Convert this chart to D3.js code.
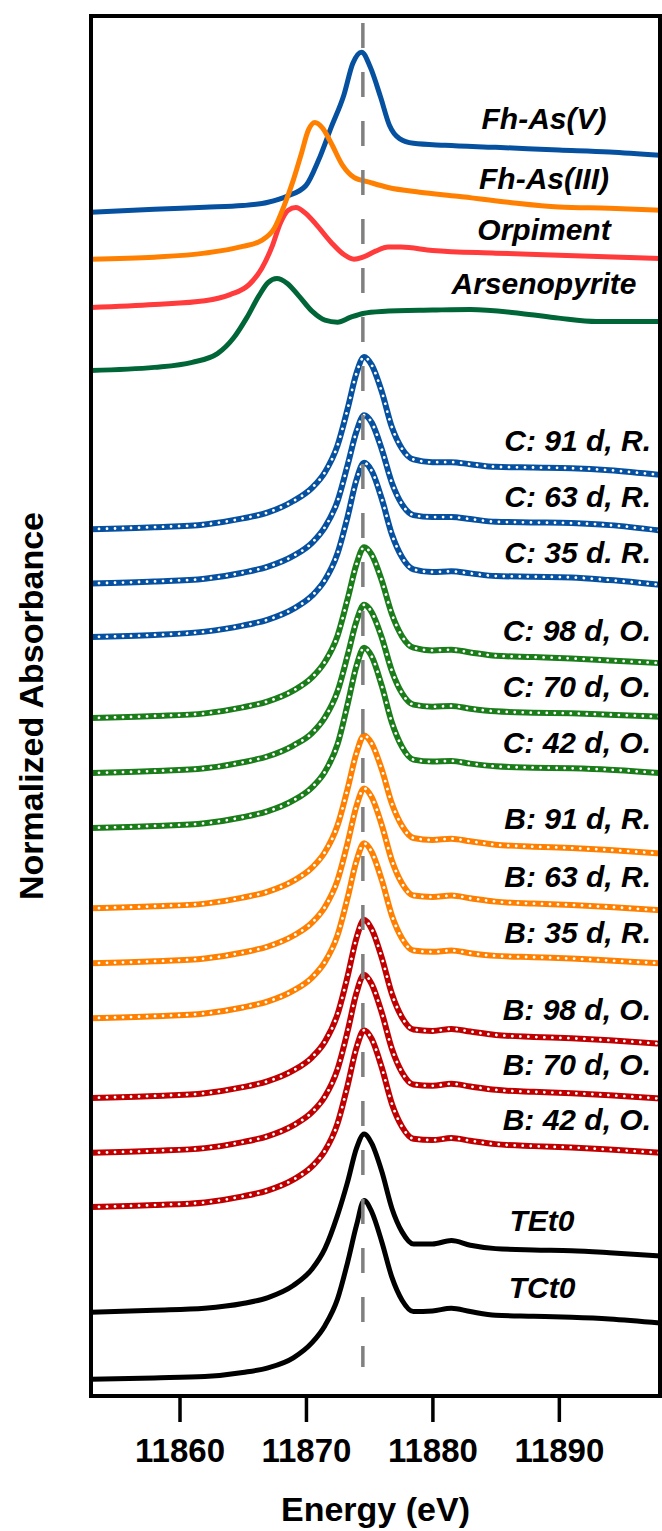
<!DOCTYPE html>
<html>
<head>
<meta charset="utf-8">
<script src="https://cdn.jsdelivr.net/npm/d3@7"></script>
<style>
  body { margin: 0; background: #fff; }
  svg { display: block; }
</style>
</head>
<body>
<svg id="chart" width="662" height="1531"></svg>
<script>
// ---------- As K-edge XANES: reference compounds ----------
// normalized absorbance above each spectrum's own pre-edge baseline
const fhAs5Energy = [11853, 11858, 11862, 11865, 11867, 11868.5, 11870, 11871, 11872, 11873, 11873.7, 11874.4, 11875.1, 11875.9, 11876.6, 11877.4, 11878.5, 11881, 11885, 11890, 11894, 11898];
const fhAs5Mu     = [0, 0.045, 0.075, 0.10, 0.15, 0.24, 0.40, 0.78, 1.27, 1.75, 2.22, 2.39, 2.16, 1.72, 1.30, 1.10, 1.03, 1.00, 0.97, 0.93, 0.90, 0.85];

const fhAs3Energy = [11853, 11858, 11862, 11865, 11866.5, 11867.5, 11868.3, 11869, 11869.6, 11870.2, 11870.7, 11871.3, 11872, 11872.9, 11873.8, 11875, 11876.5, 11879, 11882, 11886, 11890, 11894, 11898];
const fhAs3Mu     = [0, 0.03, 0.09, 0.19, 0.28, 0.46, 0.81, 1.18, 1.55, 1.93, 2.04, 1.96, 1.73, 1.40, 1.22, 1.15, 1.07, 1.00, 0.94, 0.85, 0.78, 0.76, 0.73];

const orpimentEnergy = [11853, 11858, 11862, 11864, 11865.5, 11866.5, 11867.3, 11868, 11868.6, 11869.2, 11870, 11870.8, 11872, 11873, 11873.8, 11874.5, 11875.5, 11876.5, 11877.5, 11880, 11885, 11890, 11898];
const orpimentMu     = [0, 0.045, 0.10, 0.19, 0.34, 0.58, 0.90, 1.27, 1.45, 1.49, 1.40, 1.24, 0.97, 0.79, 0.72, 0.75, 0.84, 0.90, 0.90, 0.85, 0.81, 0.78, 0.73];

const arsenopyriteEnergy = [11853, 11858, 11861, 11863, 11864.3, 11865.3, 11866.3, 11867, 11867.7, 11868.5, 11869.4, 11870.5, 11871.5, 11872.5, 11873.5, 11874.5, 11876, 11880, 11883, 11887, 11890, 11893, 11898];
const arsenopyriteMu     = [0, 0.045, 0.12, 0.25, 0.49, 0.78, 1.12, 1.31, 1.37, 1.30, 1.12, 0.88, 0.75, 0.72, 0.79, 0.85, 0.88, 0.90, 0.91, 0.85, 0.78, 0.73, 0.73];

const referenceNames   = ["Fh-As(V)", "Fh-As(III)", "Orpiment", "Arsenopyrite"];
const referenceOffsets = [17.67, 16.97, 16.25, 15.31];

// ---------- samples (measured + linear-combination fit) ----------
const sampleEnergy = [11853, 11858, 11862, 11865, 11867, 11869, 11870.5, 11871.5, 11872.5, 11873.3, 11874, 11874.6, 11875.2, 11876, 11876.8, 11877.6, 11878.5, 11880, 11881.5, 11883, 11885, 11888, 11891, 11894, 11898];

const muC91R = [0, 0.03, 0.07, 0.16, 0.25, 0.42, 0.62, 0.85, 1.25, 1.80, 2.33, 2.57, 2.45, 2.05, 1.52, 1.20, 1.04, 1.00, 1.00, 0.97, 0.93, 0.92, 0.91, 0.88, 0.81];
const muC63R = [0, 0.03, 0.07, 0.16, 0.25, 0.41, 0.61, 0.84, 1.23, 1.77, 2.27, 2.51, 2.40, 2.00, 1.50, 1.18, 1.02, 0.99, 0.99, 0.96, 0.92, 0.91, 0.90, 0.87, 0.79];
const muC35R = [0, 0.03, 0.08, 0.17, 0.26, 0.42, 0.62, 0.85, 1.25, 1.80, 2.35, 2.60, 2.48, 2.06, 1.53, 1.19, 1.01, 0.97, 0.98, 0.95, 0.91, 0.90, 0.89, 0.85, 0.78];
const muC98O = [0, 0.03, 0.07, 0.16, 0.25, 0.41, 0.61, 0.84, 1.23, 1.78, 2.30, 2.55, 2.44, 2.05, 1.55, 1.22, 1.05, 1.01, 1.02, 0.98, 0.93, 0.91, 0.89, 0.86, 0.82];
const muC70O = [0, 0.03, 0.07, 0.16, 0.25, 0.41, 0.60, 0.83, 1.22, 1.76, 2.27, 2.51, 2.40, 2.02, 1.52, 1.19, 1.02, 0.99, 1.00, 0.96, 0.92, 0.90, 0.89, 0.87, 0.84];
const muC42O = [0, 0.03, 0.07, 0.16, 0.25, 0.41, 0.61, 0.84, 1.25, 1.85, 2.42, 2.69, 2.56, 2.12, 1.57, 1.21, 1.02, 0.99, 1.00, 0.96, 0.92, 0.90, 0.89, 0.87, 0.82];
const muB91R = [0, 0.03, 0.07, 0.16, 0.25, 0.41, 0.61, 0.84, 1.24, 1.79, 2.32, 2.58, 2.46, 2.07, 1.56, 1.23, 1.05, 1.02, 1.04, 1.00, 0.95, 0.92, 0.90, 0.87, 0.82];
const muB63R = [0, 0.03, 0.07, 0.16, 0.25, 0.41, 0.61, 0.84, 1.24, 1.80, 2.35, 2.61, 2.48, 2.06, 1.53, 1.19, 1.01, 0.99, 1.01, 0.97, 0.92, 0.89, 0.87, 0.84, 0.79];
const muB35R = [0, 0.03, 0.07, 0.16, 0.25, 0.41, 0.61, 0.84, 1.24, 1.80, 2.35, 2.61, 2.48, 2.06, 1.53, 1.19, 1.01, 0.99, 1.01, 0.97, 0.93, 0.91, 0.89, 0.86, 0.82];
const muB98O = [0, 0.03, 0.07, 0.16, 0.25, 0.41, 0.61, 0.84, 1.25, 1.82, 2.39, 2.66, 2.52, 2.09, 1.55, 1.20, 1.02, 1.00, 1.03, 0.99, 0.94, 0.91, 0.89, 0.86, 0.81];
const muB70O = [0, 0.03, 0.07, 0.16, 0.25, 0.41, 0.61, 0.84, 1.25, 1.82, 2.39, 2.66, 2.52, 2.09, 1.55, 1.20, 1.02, 1.00, 1.03, 0.99, 0.94, 0.91, 0.89, 0.86, 0.81];
const muB42O = [0, 0.03, 0.07, 0.16, 0.25, 0.41, 0.61, 0.84, 1.25, 1.82, 2.38, 2.64, 2.51, 2.08, 1.54, 1.20, 1.02, 1.00, 1.03, 0.99, 0.94, 0.91, 0.89, 0.86, 0.81];
const muTEt0 = [0, 0.03, 0.06, 0.13, 0.22, 0.40, 0.65, 0.95, 1.45, 1.95, 2.45, 2.66, 2.52, 2.10, 1.55, 1.20, 1.02, 1.02, 1.07, 1.00, 0.95, 0.93, 0.92, 0.89, 0.84];
const muTCt0 = [0, 0.02, 0.04, 0.10, 0.17, 0.32, 0.55, 0.80, 1.20, 1.75, 2.30, 2.67, 2.50, 2.05, 1.52, 1.18, 1.01, 1.02, 1.06, 1.01, 0.955, 0.94, 0.925, 0.90, 0.84];

const sampleNames   = ["C: 91 d, R.", "C: 63 d, R.", "C: 35 d. R.", "C: 98 d, O.", "C: 70 d, O.", "C: 42 d, O.",
                       "B: 91 d, R.", "B: 63 d, R.", "B: 35 d, R.", "B: 98 d, O.", "B: 70 d, O.", "B: 42 d, O.",
                       "TEt0", "TCt0"];
const sampleOffsets = [12.94, 12.13, 11.33, 10.12, 9.30, 8.48, 7.28, 6.46, 5.64, 4.45, 3.63, 2.82, 1.25, 0.25];

const xTicks = [11860, 11870, 11880, 11890];
const whiteLineEnergy = 11874.5;

// ---------- layout ----------
const svg = d3.select("#chart");
const margin = { left: 91, right: 660, top: 16, bottom: 1396 };
const x = d3.scaleLinear().domain([11853, 11898]).range([margin.left, margin.right]);
const y = d3.scaleLinear().domain([0, 20.6]).range([margin.bottom, margin.top]);

const line = (energy, offset) => d3.line()
  .x((d, i) => x(energy[i]))
  .y(d => y(d + offset))
  .curve(d3.curveMonotoneX);

const refEnergies = [fhAs5Energy, fhAs3Energy, orpimentEnergy, arsenopyriteEnergy];
const refValues   = [fhAs5Mu, fhAs3Mu, orpimentMu, arsenopyriteMu];
const refColors   = ["#0650a0", "#ff8000", "#ff3b3b", "#006637"];
const refLabelLift = [94, 81, 78, 87];
const refDrawOrder = [0, 3, 2, 1];

const sampleValues = [muC91R, muC63R, muC35R, muC98O, muC70O, muC42O,
                      muB91R, muB63R, muB35R, muB98O, muB70O, muB42O, muTEt0, muTCt0];
const sampleColors = ["#0650a0", "#0650a0", "#0650a0", "#1a7d1a", "#1a7d1a", "#1a7d1a",
                      "#ff8000", "#ff8000", "#ff8000", "#c00000", "#c00000", "#c00000", "#000", "#000"];
const sampleLabelLift = [89, 87, 85, 88, 86, 85, 90, 87, 86, 88, 88, 88, 92, 92];
const sampleFitted = [true, true, true, true, true, true, true, true, true, true, true, true, false, false];

const plot = svg.append("g");

// reference spectra
refDrawOrder.forEach(i => {
  plot.append("path")
    .attr("d", line(refEnergies[i], referenceOffsets[i])(refValues[i]))
    .attr("fill", "none")
    .attr("stroke", refColors[i])
    .attr("stroke-width", 5)
    .attr("stroke-linejoin", "round");
});

// sample spectra: measured (solid) with fit (white dots) on top
sampleValues.forEach((vals, i) => {
  const d = line(sampleEnergy, sampleOffsets[i])(vals);
  plot.append("path")
    .attr("d", d)
    .attr("fill", "none")
    .attr("stroke", sampleColors[i])
    .attr("stroke-width", sampleFitted[i] ? 6 : 5)
    .attr("stroke-linejoin", "round");
  if (sampleFitted[i]) {
    plot.append("path")
      .attr("d", d)
      .attr("fill", "none")
      .attr("stroke", "#fff")
      .attr("stroke-width", 2.8)
      .attr("stroke-linecap", "round")
      .attr("stroke-dasharray", "0.01 8");
  }
});

// white-line reference position
plot.append("line")
  .attr("x1", x(whiteLineEnergy)).attr("x2", x(whiteLineEnergy))
  .attr("y1", margin.top + 7).attr("y2", margin.bottom - 29)
  .attr("stroke", "#808080")
  .attr("stroke-width", 3.5)
  .attr("stroke-dasharray", "25 24");

// labels
const labelFont = "'Liberation Sans', Arial, sans-serif";
referenceNames.forEach((name, i) => {
  svg.append("text")
    .attr("x", 544)
    .attr("y", y(referenceOffsets[i]) - refLabelLift[i])
    .attr("text-anchor", "middle")
    .attr("dominant-baseline", "central")
    .attr("font-family", labelFont)
    .attr("font-weight", "bold")
    .attr("font-style", "italic")
    .attr("font-size", 30)
    .text(name);
});
sampleNames.forEach((name, i) => {
  const isT = !sampleFitted[i];
  svg.append("text")
    .attr("x", isT ? 542 : 651)
    .attr("y", y(sampleOffsets[i]) - sampleLabelLift[i])
    .attr("text-anchor", isT ? "middle" : "end")
    .attr("dominant-baseline", "central")
    .attr("font-family", labelFont)
    .attr("font-weight", "bold")
    .attr("font-style", "italic")
    .attr("font-size", 30)
    .text(name);
});

// frame
svg.append("rect")
  .attr("x", margin.left).attr("y", margin.top)
  .attr("width", margin.right - margin.left)
  .attr("height", margin.bottom - margin.top)
  .attr("fill", "none")
  .attr("stroke", "#000")
  .attr("stroke-width", 4);

// x axis
const xAxis = d3.axisBottom(x).tickValues(xTicks).tickFormat(d3.format("d")).tickSize(26).tickPadding(17);
const gx = svg.append("g").attr("transform", `translate(0,${margin.bottom})`).call(xAxis);
gx.select(".domain").remove();
gx.selectAll(".tick line").attr("stroke", "#000").attr("stroke-width", 3.5);
gx.selectAll(".tick text")
  .attr("font-family", labelFont)
  .attr("font-weight", "bold")
  .attr("font-size", 33)
  .attr("fill", "#000");

svg.append("text")
  .attr("x", (margin.left + margin.right) / 2)
  .attr("y", 1521)
  .attr("text-anchor", "middle")
  .attr("font-family", labelFont)
  .attr("font-weight", "bold")
  .attr("font-size", 34)
  .text("Energy (eV)");

svg.append("text")
  .attr("transform", `translate(43,${(margin.top + margin.bottom) / 2}) rotate(-90)`)
  .attr("text-anchor", "middle")
  .attr("font-family", labelFont)
  .attr("font-weight", "bold")
  .attr("font-size", 34)
  .text("Normalized Absorbance");
</script>
</body>
</html>
